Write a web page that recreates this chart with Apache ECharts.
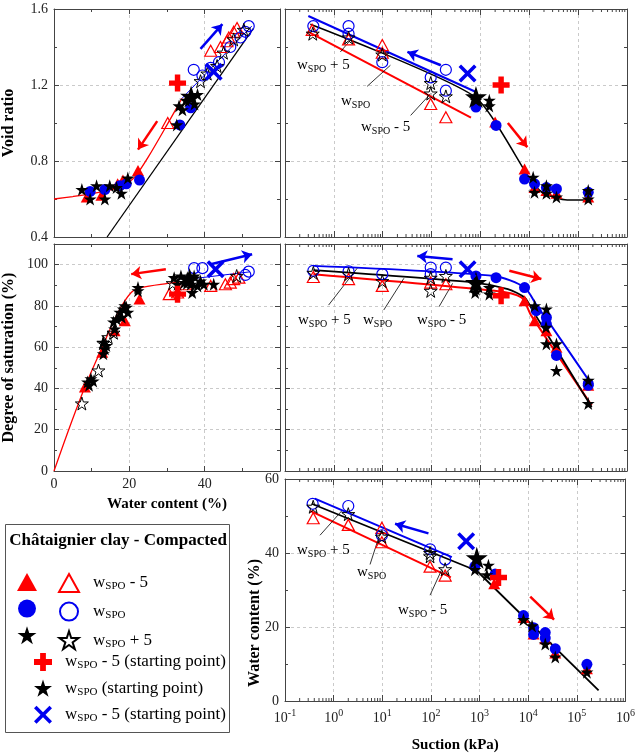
<!DOCTYPE html>
<html>
<head>
<meta charset="utf-8">
<script src="https://cdn.jsdelivr.net/npm/echarts@6/dist/echarts.min.js"></script>
<style>
  html, body { margin: 0; background: #fff; }
  #chart { width: 638px; height: 754px; }
</style>
</head>
<body>
<div id="chart"></div>
<script>
// ---- data: void ratio vs water content (top left) ----
const tlTriF = [[8.7,0.61],[12.6,0.62],[16.9,0.68],[18.3,0.70],[22.3,0.75]];
const tlTriO = [[30.2,1.00],[41.6,1.38],[44.2,1.40],[45.9,1.43],[46.4,1.45],[47.7,1.48],[48.6,1.50]];
const tlCirF = [[9.6,0.64],[13.5,0.65],[17.5,0.67],[19.2,0.68],[22.7,0.70],[33.4,0.99],[36.3,1.08]];
const tlCirO = [[37.1,1.28],[39.4,1.25],[41.6,1.29],[43.8,1.32],[46.8,1.40],[49.5,1.45],[50.8,1.48],[51.7,1.51]];
const tlStarF = [[7.4,0.65],[9.6,0.60],[11.3,0.67],[13.5,0.60],[14.8,0.67],[16.6,0.66],[17.9,0.63],[19.6,0.71],
  [32.6,0.99],[33.2,1.09],[34.1,1.07],[35.0,1.12],[37.3,1.10],[38.1,1.15]];
const tlStarO = [[38.9,1.22],[40.7,1.26],[43.3,1.30],[45.0,1.37],[47.7,1.44],[50.4,1.49]];
const tlPlus = [[32.8,1.21]];
const tlBigStar = [[36.4,1.14]];
const tlCross = [[42.4,1.27]];
const tlRedCurve = [[0,0.60],[5,0.613],[10,0.628],[15,0.648],[18,0.668],[20,0.69],[22,0.73],[25,0.82],[30,0.99],[34,1.13]];
const tlBlueCurve = [[34,1.13],[52.5,1.51]];
const tlSatLine = [[14.1,0.40],[52.9,1.497]];
const tlArrowBlue = [[38.9,1.39],[44.7,1.52]];
const tlArrowRed = [[27.4,1.01],[22.3,0.86]];

// ---- void ratio vs suction (top right) ----
const trTriO = [[0.36,1.49],[2,1.44],[9.8,1.41],[9.8,1.37],[96,1.10],[196,1.03]];
const trCirO = [[0.38,1.51],[2,1.51],[2,1.47],[9.8,1.32],[96,1.24],[196,1.28],[196,1.17]];
const trStarO = [[0.37,1.47],[2,1.45],[9.8,1.36],[96,1.21],[96,1.155],[196,1.14]];
const trTriF = [[2000,1.005],[8000,0.758],[12800,0.66],[22400,0.645],[36000,0.63],[161000,0.61]];
const trCirF = [[810,1.084],[2090,0.987],[8000,0.705],[12800,0.68],[22400,0.66],[36000,0.653],[161000,0.635]];
const trStarF = [[810,1.12],[1520,1.12],[1520,1.09],[12000,0.714],[12800,0.635],[22400,0.67],[22400,0.63],
  [36000,0.61],[161000,0.645],[161000,0.60]];
const trPlus = [[2650,1.20]];
const trBigStar = [[810,1.137]];
const trCross = [[545,1.26]];
const trBlueLine = [[0.30,1.563],[813,1.163]];
const trBlackLine = [[0.33,1.52],[750,1.14],[10000,0.71],[13000,0.67],[20000,0.63],[33000,0.608],[60000,0.595],[160000,0.595]];
const trRedLine = [[0.30,1.48],[640,1.028]];
const trArrowBlue = [[155,1.304],[32,1.374]];
const trArrowRed = [[3640,1.0],[9100,0.873]];
const trLeaders = [[[1.36,1.374],[2.17,1.436]],[[4.8,1.193],[14.4,1.304]],[[37.3,1.04],[96,1.155]]];

// ---- degree of saturation vs water content (middle left) ----
const mlTriF = [[8.2,40.7],[12.8,57.5],[16.1,68],[18.8,72.8],[22.7,83.3]];
const mlTriO = [[30.6,85.7],[32.8,86.5],[35,90.5],[41.6,89.7],[45.5,90.5],[46.8,91.3],[47.7,93],[49.1,93.7]];
const mlCirO = [[37.2,98.3],[39.4,98.3],[50.8,95],[51.7,96.6]];
const mlCirF = [];
const mlStarF = [[8.9,43.1],[9.8,44.7],[9.3,41.5],[10.4,43.6],[13.1,56.8],[13.5,59.2],[13.1,62.4],[13.9,60.8],
  [16.1,68.8],[16.6,73.7],[17.5,76.9],[18.4,78.5],[19.2,79.3],[19.6,76.9],[18,74.5],[18.8,80.1],[15.8,72.2],
  [22.3,88.9],[22.3,87.3],[31.9,93.7],[33.7,94.5],[35.4,93.7],[37.2,94.5],[38.9,92.1],[38.1,89.7],[36.3,90.5],
  [34.6,91.3],[32.8,90.5],[39.8,90.5],[36.7,86.5],[42.4,90.5]];
const mlStarO = [[7.4,32.7],[11.8,48.7],[14.4,64.8],[13.1,62],[15.8,67],[31.5,91],[48.5,94.5]];
const mlPlus = [[32.8,85.7]];
const mlBigStar = [[36,93]];
const mlCross = [[42.9,97.8]];
const mlRedCurve = [[0,0],[4,20.5],[8.2,40.7],[12.6,59.2],[17,76.8],[20.5,86.5],[23.2,88.9],[30.2,90.9],[36,92.3]];
const mlBlueCurve = [[36,93],[52,96.5]];
const mlArrowRed = [[29.7,97.8],[20.5,95.4]];
const mlArrowBlue = [[41.6,100.2],[52.6,105]];

// ---- degree of saturation vs suction (middle right) ----
const mrCirO = [[0.38,97],[2,96.8],[9.8,95.4],[96,98.6],[196,98.6],[96,95.4]];
const mrTriO = [[0.38,94],[2,93],[9.8,89.7],[96,91.3],[196,90.5]];
const mrStarO = [[0.38,96],[2,95.4],[9.8,92],[96,87.3],[196,94.5],[96,93.6]];
const mrStarF = [[1520,88.9],[1520,85.7],[810,88.1],[780,86.5],[22400,78.5],[22400,61.6],[36000,61.6],
  [36000,48.7],[161000,43.9],[161000,32.7],[12900,80.1],[22000,69.6]];
const mrCirF = [[2090,93.7],[810,94.5],[8000,88.9],[13900,77.7],[22400,74.4],[22400,71.2],[36000,56],[161000,42.3],[161000,41.5]];
const mrTriF = [[12900,72.8],[8000,82.5],[22400,68],[36000,60],[161000,41.5]];
const mrPlus = [[2650,84.9]];
const mrBigStar = [[810,91.3]];
const mrCross = [[545,97.8]];
const mrBlueLine = [[0.38,99.4],[1940,94.5],[8000,88.9],[15000,79.3],[24000,72.8],[174000,43.1]];
const mrBlackLine = [[0.38,97.3],[750,91.3],[3650,88.1],[8000,84.1],[11800,77.7],[189000,31]];
const mrRedLine = [[0.38,95.4],[1940,87.3],[6900,84.1],[11000,75.3],[189000,31.8]];
const mrArrowBlue = [[269,102.6],[51,104.2]];
const mrArrowRed = [[3900,97],[17700,93]];
const mrLeaders = [[[0.78,80.4],[2.99,98.2]],[[10.5,78],[27.2,93.4]],[[142,79.6],[269,90.9]]];

// ---- water content vs suction (bottom right) ----
const brCirO = [[0.37,53.3],[2,52.7],[9.8,44.8],[96,41],[196,38.2]];
const brTriO = [[0.38,49.4],[2,47.6],[9.8,46.8],[9.8,42.9],[96,36.3],[196,33.9]];
const brStarO = [[0.38,52.5],[2,50.5],[9.8,44.4],[96,39.1],[96,40],[196,35.6]];
const brStarF = [[1520,36.7],[1410,34.1],[800,35.5],[12000,20.3],[22400,15.4],[36000,11.9],[161000,7.8],[8000,22]];
const brCirF = [[800,36.4],[2090,34.3],[8000,23.1],[12900,19.8],[12900,18],[22400,18.5],[22400,17],[36000,14.1],[161000,9.9]];
const brTriF = [[2000,31.7],[12900,18.1],[22400,16.8],[36000,13],[161000,8.7],[8000,22.6]];
const brPlus = [[2450,33.4]];
const brBigStar = [[876,38.7]];
const brCross = [[530,43.2]];
const brBlueLine = [[0.41,54.7],[269,38.9]];
const brBlackLine = [[0.354,53.3],[876,35.2],[280000,2.9]];
const brRedLine = [[0.33,51.4],[257,33.4]];
const brArrowBlue = [[89,45.3],[18.3,47.9]];
const brArrowRed = [[11000,28.2],[34000,22]];
const brLeaders = [[[0.525,44.8],[1.47,51.4]],[[5.6,36.9],[9.0,45.3]],[[96,28.6],[168,35.6]]];

// log axis minor ticks (2..9 per decade)
const logMinorMult = [2,3,4,5,6,7,8,9];
const logDecades = [0.1,1,10,100,1000,10000,100000];
const logMinorTicks = [];
logDecades.forEach(d => logMinorMult.forEach(m => logMinorTicks.push(d * m)));

// ---- styles ----
const FONT = 'Liberation Serif';
const RED = '#ff0000', BLUE = '#0000f0', BLACK = '#000000';
const AXIS_COLOR = '#444';
const HOLLOW = 'rgba(255,255,255,0)';
const STAR = 'path://M50,0L61.2,34.5L97.6,34.5L68.2,55.9L79.4,90.5L50,69.1L20.6,90.5L31.8,55.9L2.4,34.5L38.8,34.5Z';
const PLUS = 'path://M34,0H66V34H100V66H66V100H34V66H0V34H34Z';
const CROSS = 'path://M14,0L50,36L86,0L100,14L64,50L100,86L86,100L50,64L14,100L0,86L36,50L0,14Z';

const markerStyles = {
  w5m_f: { symbol: 'triangle', symbolSize: [12, 11], itemStyle: { color: RED, opacity: 1 } },
  w5m_o: { symbol: 'triangle', symbolSize: [12, 11], itemStyle: { color: HOLLOW, borderColor: RED, borderWidth: 1.2, opacity: 1 } },
  w0_f: { symbol: 'circle', symbolSize: 11, itemStyle: { color: BLUE, opacity: 1 } },
  w0_o: { symbol: 'circle', symbolSize: 11, itemStyle: { color: HOLLOW, borderColor: BLUE, borderWidth: 1.2, opacity: 1 } },
  w5p_f: { symbol: STAR, symbolSize: 13, itemStyle: { color: BLACK, opacity: 1 } },
  w5p_o: { symbol: STAR, symbolSize: 13, itemStyle: { color: HOLLOW, borderColor: BLACK, borderWidth: 1, opacity: 1 } },
  sp_plus: { symbol: PLUS, symbolSize: 17, itemStyle: { color: RED, opacity: 1 } },
  sp_star: { symbol: STAR, symbolSize: 22, itemStyle: { color: BLACK, opacity: 1 } },
  sp_x: { symbol: CROSS, symbolSize: 18, itemStyle: { color: BLUE, opacity: 1 } }
};

const W = '{w|w}{s|SPO}';
const legendText = {
  w5m_o: W + '{w| - 5}',
  w0_o: W,
  w5p_o: W + '{w| + 5}',
  sp_plus: W + '{w| - 5 (starting point)}',
  sp_star: W + '{w| (starting point)}',
  sp_x: W + '{w| - 5 (starting point)}'
};

const grids = [
  { left: 52, top: 9, width: 228, height: 228 },    // top left
  { left: 285, top: 9, width: 342, height: 228 },   // top right
  { left: 52, top: 244, width: 228, height: 227 },  // middle left
  { left: 285, top: 244, width: 342, height: 227 }, // middle right
  { left: 285, top: 479, width: 342, height: 228 }  // bottom right
];

const tickLabel = { fontFamily: FONT, fontSize: 14, color: '#222' };
const axisName = { fontFamily: FONT, fontWeight: 'bold', color: '#000' };

function linAxis(g, pos, min, max, interval, showLabels, extra) {
  return Object.assign({
    gridIndex: g, type: 'value', position: pos, min, max, interval,
    axisLine: { show: true, onZero: false, lineStyle: { color: AXIS_COLOR, width: 1 } },
    axisTick: { show: true, inside: true, length: 5, lineStyle: { color: AXIS_COLOR } },
    minorTick: { show: true, splitNumber: 2, length: 3, lineStyle: { color: AXIS_COLOR } },
    splitLine: { show: pos === 'bottom' || pos === 'left', lineStyle: { color: '#bdbdbd', type: [3, 3], width: 0.8 } },
    axisLabel: Object.assign({ show: showLabels, margin: 6 }, tickLabel)
  }, extra || {});
}

function logAxis(g, pos, showLabels, extra) {
  return Object.assign({
    gridIndex: g, type: 'log', logBase: 10, position: pos, min: 0.1, max: 1e6, splitNumber: 7,
    axisLine: { show: true, onZero: false, lineStyle: { color: AXIS_COLOR, width: 1 } },
    axisTick: { show: true, inside: true, length: 6, lineStyle: { color: AXIS_COLOR } },
    minorTick: { show: false },
    splitLine: { show: pos === 'bottom', lineStyle: { color: '#bdbdbd', type: [3, 3], width: 0.8 } },
    axisLabel: {
      show: showLabels, margin: 7,
      formatter: v => '{b|10}{e|' + Math.round(Math.log10(v)) + '}',
      rich: {
        b: { fontFamily: FONT, fontSize: 14, color: '#222', lineHeight: 20, verticalAlign: 'middle' },
        e: { fontFamily: FONT, fontSize: 10, color: '#222', verticalAlign: 'top' }
      }
    }
  }, extra || {});
}

const xAxes = [
  linAxis(0, 'bottom', 0, 60, 20, false), linAxis(0, 'top', 0, 60, 20, false),
  logAxis(1, 'bottom', false), logAxis(1, 'top', false),
  linAxis(2, 'bottom', 0, 60, 20, true, {
    name: 'Water content (%)', nameLocation: 'middle', nameGap: 26,
    nameTextStyle: Object.assign({ fontSize: 15 }, axisName)
  }),
  linAxis(2, 'top', 0, 60, 20, false),
  logAxis(3, 'bottom', false), logAxis(3, 'top', false),
  logAxis(4, 'bottom', true, {
    name: 'Suction (kPa)', nameLocation: 'middle', nameGap: 37,
    nameTextStyle: Object.assign({ fontSize: 15 }, axisName)
  }),
  logAxis(4, 'top', false)
];
xAxes[4].axisLabel.showMaxLabel = false;

const yAxes = [
  linAxis(0, 'left', 0.4, 1.6, 0.4, true, {
    name: 'Void ratio', nameLocation: 'middle', nameGap: 37,
    nameTextStyle: Object.assign({ fontSize: 16 }, axisName)
  }),
  linAxis(0, 'right', 0.4, 1.6, 0.4, false),
  linAxis(1, 'left', 0.4, 1.6, 0.4, false), linAxis(1, 'right', 0.4, 1.6, 0.4, false),
  linAxis(2, 'left', 0, 110, 20, true, {
    name: 'Degree of saturation (%)', nameLocation: 'middle', nameGap: 37,
    nameTextStyle: Object.assign({ fontSize: 16 }, axisName)
  }),
  linAxis(2, 'right', 0, 110, 20, false),
  linAxis(3, 'left', 0, 110, 20, false), linAxis(3, 'right', 0, 110, 20, false),
  linAxis(4, 'left', 0, 60, 20, true), linAxis(4, 'right', 0, 60, 20, false)
];
yAxes[4].axisLabel.showMaxLabel = false;

function scatter(g, name, data) {
  return Object.assign({
    type: 'scatter', name, data, xAxisIndex: 2 * g, yAxisIndex: 2 * g, z: 5,
    emphasis: { disabled: true }
  }, markerStyles[name]);
}

function curve(g, data, color, width, smooth) {
  return {
    type: 'line', data, xAxisIndex: 2 * g, yAxisIndex: 2 * g, symbol: 'none', showSymbol: false,
    smooth: smooth || false, lineStyle: { color, width }, silent: true, z: 3
  };
}

function arrow(g, coords, color) {
  return {
    type: 'lines', coordinateSystem: 'cartesian2d', xAxisIndex: 2 * g, yAxisIndex: 2 * g,
    symbol: ['none', 'arrow'], symbolSize: 10, silent: true, z: 6,
    lineStyle: { color, width: 2.5, opacity: 1 },
    data: [{ coords }]
  };
}

function leaders(g, list) {
  return {
    type: 'lines', coordinateSystem: 'cartesian2d', xAxisIndex: 2 * g, yAxisIndex: 2 * g,
    symbol: 'none', silent: true, z: 4,
    lineStyle: { color: '#000', width: 0.8, opacity: 1 },
    data: list.map(c => ({ coords: c }))
  };
}

function minorTicks(g, yRef) {
  return {
    type: 'custom', xAxisIndex: 2 * g, yAxisIndex: 2 * g, silent: true, z: 2,
    data: logMinorTicks.map(v => [v, yRef]),
    renderItem(params, api) {
      const x = api.coord([api.value(0), api.value(1)])[0];
      const cs = params.coordSys;
      const st = { stroke: AXIS_COLOR, lineWidth: 1 };
      return {
        type: 'group', children: [
          { type: 'line', shape: { x1: x, y1: cs.y + cs.height, x2: x, y2: cs.y + cs.height - 3 }, style: st },
          { type: 'line', shape: { x1: x, y1: cs.y, x2: x, y2: cs.y + 3 }, style: st }
        ]
      };
    }
  };
}

function panel(g, sets) {
  return [
    scatter(g, 'w5m_f', sets.triF), scatter(g, 'w5m_o', sets.triO),
    scatter(g, 'w0_f', sets.cirF), scatter(g, 'w0_o', sets.cirO),
    scatter(g, 'w5p_f', sets.starF), scatter(g, 'w5p_o', sets.starO),
    scatter(g, 'sp_plus', sets.plus), scatter(g, 'sp_star', sets.bigStar), scatter(g, 'sp_x', sets.cross)
  ];
}

const series = [].concat(
  // top left
  curve(0, tlSatLine, BLACK, 1.3), curve(0, tlRedCurve, RED, 1.3, 0.3), curve(0, tlBlueCurve, BLUE, 1),
  panel(0, { triF: tlTriF, triO: tlTriO, cirF: tlCirF, cirO: tlCirO, starF: tlStarF, starO: tlStarO,
    plus: tlPlus, bigStar: tlBigStar, cross: tlCross }),
  arrow(0, tlArrowBlue, BLUE), arrow(0, tlArrowRed, RED),
  // top right
  curve(1, trBlueLine, BLUE, 2), curve(1, trRedLine, RED, 2), curve(1, trBlackLine, BLACK, 1.5, 0.2),
  panel(1, { triF: trTriF, triO: trTriO, cirF: trCirF, cirO: trCirO, starF: trStarF, starO: trStarO,
    plus: trPlus, bigStar: trBigStar, cross: trCross }),
  arrow(1, trArrowBlue, BLUE), arrow(1, trArrowRed, RED), leaders(1, trLeaders), minorTicks(1, 1),
  // middle left
  curve(2, mlRedCurve, RED, 1.3, 0.3), curve(2, mlBlueCurve, BLUE, 1),
  panel(2, { triF: mlTriF, triO: mlTriO, cirF: mlCirF, cirO: mlCirO, starF: mlStarF, starO: mlStarO,
    plus: mlPlus, bigStar: mlBigStar, cross: mlCross }),
  arrow(2, mlArrowRed, RED), arrow(2, mlArrowBlue, BLUE),
  // middle right
  curve(3, mrBlueLine, BLUE, 2, 0.25), curve(3, mrRedLine, RED, 2, 0.25), curve(3, mrBlackLine, BLACK, 1.8, 0.25),
  panel(3, { triF: mrTriF, triO: mrTriO, cirF: mrCirF, cirO: mrCirO, starF: mrStarF, starO: mrStarO,
    plus: mrPlus, bigStar: mrBigStar, cross: mrCross }),
  arrow(3, mrArrowBlue, BLUE), arrow(3, mrArrowRed, RED), leaders(3, mrLeaders), minorTicks(3, 50),
  // bottom right
  curve(4, brBlueLine, BLUE, 2), curve(4, brRedLine, RED, 2), curve(4, brBlackLine, BLACK, 1.8),
  panel(4, { triF: brTriF, triO: brTriO, cirF: brCirF, cirO: brCirO, starF: brStarF, starO: brStarO,
    plus: brPlus, bigStar: brBigStar, cross: brCross }),
  arrow(4, brArrowBlue, BLUE), arrow(4, brArrowRed, RED), leaders(4, brLeaders), minorTicks(4, 30)
);

const richLegend = {
  w: { fontFamily: FONT, fontSize: 17, color: '#000', lineHeight: 18, verticalAlign: 'middle' },
  s: { fontFamily: FONT, fontSize: 11, color: '#000', verticalAlign: 'bottom' }
};
const richNote = {
  w: { fontFamily: FONT, fontSize: 15, fill: '#000', color: '#000', lineHeight: 18, verticalAlign: 'middle' },
  s: { fontFamily: FONT, fontSize: 10, fill: '#000', color: '#000', verticalAlign: 'bottom' }
};

const legendBase = { orient: 'vertical', selectedMode: false, padding: 0, itemHeight: 18 };
const legends = [
  Object.assign({}, legendBase, { data: ['w5m_f', 'w0_f', 'w5p_f'], left: 17, top: 573, itemWidth: 20, itemGap: 8.6,
    formatter: () => '' }),
  Object.assign({}, legendBase, { data: ['w5m_o', 'w0_o', 'w5p_o'], left: 58, top: 573, itemWidth: 20, itemGap: 8.6,
    formatter: n => legendText[n], textStyle: { padding: [0, 0, 0, 9], rich: richLegend } }),
  Object.assign({}, legendBase, { data: ['sp_plus', 'sp_star', 'sp_x'], left: 34, top: 653, itemWidth: 18, itemGap: 8.6,
    formatter: n => legendText[n], textStyle: { padding: [0, 0, 0, 8], rich: richLegend } })
];

function note(x, y, text) {
  return { type: 'text', x, y, z: 10, style: { text, rich: richNote, align: 'left', verticalAlign: 'middle' } };
}

const graphics = [
  { type: 'rect', shape: { x: 5.5, y: 524.5, width: 224, height: 208 }, style: { fill: '#fff', stroke: '#555', lineWidth: 1 }, z: 0 },
  { type: 'text', x: 118, y: 541, z: 10, style: { text: 'Châtaignier clay - Compacted', font: 'bold 17px "Liberation Serif"',
    fill: '#000', align: 'center', verticalAlign: 'middle' } },
  { type: 'text', x: 255, y: 623, rotation: Math.PI / 2, z: 10, style: { text: 'Water content (%)',
    font: 'bold 16px "Liberation Serif"', fill: '#000', align: 'center', verticalAlign: 'middle' } },
  note(297, 65, W + '{w| + 5}'), note(341, 101, W), note(361, 127, W + '{w| - 5}'),
  note(298, 320, W + '{w| + 5}'), note(363, 320, W), note(417, 320, W + '{w| - 5}'),
  note(297, 550, W + '{w| + 5}'), note(357, 572, W), note(398, 610, W + '{w| - 5}')
];

const chart = echarts.init(document.getElementById('chart'), null, { renderer: 'canvas' });
chart.setOption({
  animation: false,
  backgroundColor: '#fff',
  grid: grids,
  xAxis: xAxes,
  yAxis: yAxes,
  legend: legends,
  graphic: graphics,
  series
});
</script>
</body>
</html>
